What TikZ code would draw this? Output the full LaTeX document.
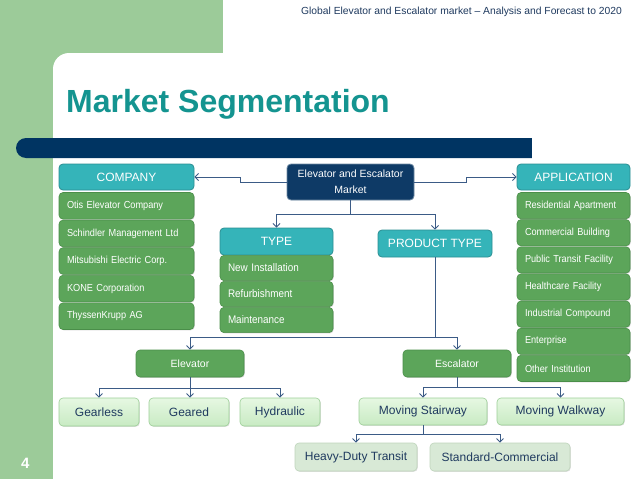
\documentclass[tikz,border=0pt]{standalone}
\usepackage{fontspec}
\setmainfont{Liberation Sans}
\newfontfamily\narrowsans[FakeStretch=0.9]{Liberation Sans}
\usetikzlibrary{arrows.meta,shadows}
\definecolor{bggreen}{HTML}{9CCB99}
\definecolor{titleteal}{HTML}{149490}
\definecolor{barnavy}{HTML}{003462}
\definecolor{headteal}{HTML}{35B4B9}
\definecolor{headborder}{HTML}{2B8E92}
\definecolor{igreen}{HTML}{5CA55A}
\definecolor{igreenborder}{HTML}{4A8E49}
\definecolor{mnavy}{HTML}{0E3A66}
\definecolor{mborder}{HTML}{6F8AA3}
\definecolor{conncol}{HTML}{3B5B86}
\definecolor{lgtop}{HTML}{E6F8E2}
\definecolor{lgbot}{HTML}{C8EAC3}
\definecolor{lgborder}{HTML}{9CCF97}
\definecolor{ggfill}{HTML}{D8E9D6}
\definecolor{ggborder}{HTML}{BFD5BC}
\definecolor{darktext}{HTML}{1F3A5F}
\begin{document}
\begin{tikzpicture}[x=1pt,y=-1pt,
  head/.style={fill=headteal, draw=headborder, line width=0.8pt, rounded corners=4pt, text=white,
    font=\fontsize{12}{14}\selectfont, inner sep=0pt},
  item/.style={fill=igreen, draw=igreenborder, line width=0.6pt, rounded corners=4pt, text=white,
    font=\narrowsans\fontsize{10.2}{12}\selectfont, inner xsep=8pt, inner ysep=0pt, align=left,
    drop shadow={shadow xshift=0.8pt, shadow yshift=-0.8pt, opacity=0.3}},
  mid/.style={fill=igreen, draw=igreenborder, line width=0.6pt, rounded corners=4pt, text=white,
    font=\fontsize{10.5}{12}\selectfont, inner sep=0pt,
    drop shadow={shadow xshift=0.8pt, shadow yshift=-0.8pt, opacity=0.3}},
  leaf/.style={top color=lgtop, bottom color=lgbot, draw=lgborder, line width=0.6pt, rounded corners=4pt,
    text=darktext, font=\fontsize{12}{14}\selectfont, inner sep=0pt,
    drop shadow={shadow xshift=0.8pt, shadow yshift=-0.8pt, opacity=0.25}},
  leafgray/.style={fill=ggfill, draw=ggborder, line width=0.6pt, rounded corners=4pt,
    text=darktext, font=\fontsize{12}{14}\selectfont, inner sep=0pt,
    drop shadow={shadow xshift=0.8pt, shadow yshift=-0.8pt, opacity=0.25}},
  conn/.style={draw=conncol, line width=0.9pt, -{Straight Barb[length=3.5pt,width=7pt]}},
  connl/.style={draw=conncol, line width=0.9pt}
]
\clip (0,0) rectangle (638,479);
% background
\fill[white] (0,0) rectangle (638,479);
\fill[bggreen] (0,0) rectangle (223,75);
\fill[bggreen] (0,0) rectangle (53,479);
\fill[white, rounded corners=16pt] (53,53) rectangle (700,540);
% header text
\node[anchor=base east, text=darktext, font=\fontsize{10.3}{12}\selectfont, inner sep=0pt] (hdr) at (622,14)
  {Global Elevator and Escalator market -- Analysis and Forecast to 2020};
% title
\node[anchor=base west, text=titleteal, font=\bfseries\fontsize{32}{36}\selectfont, inner sep=0pt] (title) at (66,112)
  {Market Segmentation};
% navy bar
\fill[barnavy, rounded corners=10pt] (16,138) rectangle (560,158);
\fill[white] (532,130) rectangle (600,165);
% page number
\node[anchor=base west, text=white, font=\bfseries\fontsize{15}{18}\selectfont, inner sep=0pt] (pnum) at (21,468) {4};

% market box
\node[fill=mnavy, draw=mborder, line width=0.8pt, rounded corners=4pt, text=white, align=center,
  font=\fontsize{10.5}{16}\selectfont, inner sep=0pt, minimum width=127pt, minimum height=36pt]
  (market) at (350.5,182) {Elevator and Escalator\\Market};

% company column
\node[head, minimum width=135pt, minimum height=26pt] (company) at (126.5,177) {COMPANY};
\node[item, text width=119pt, minimum height=26.6pt] (c1) at (126.5,205.8) {Otis Elevator Company};
\node[item, text width=119pt, minimum height=26.6pt] (c2) at (126.5,233.4) {Schindler Management Ltd};
\node[item, text width=119pt, minimum height=26.6pt] (c3) at (126.5,261.0) {Mitsubishi Electric Corp.};
\node[item, text width=119pt, minimum height=26.6pt] (c4) at (126.5,288.6) {KONE Corporation};
\node[item, text width=119pt, minimum height=26.6pt] (c5) at (126.5,316.2) {ThyssenKrupp AG};

% application column
\node[head, minimum width=113pt, minimum height=26pt] (app) at (573.5,177) {APPLICATION};
\node[item, text width=97pt, minimum height=26.2pt] (a1) at (573.5,205.6) {Residential Apartment};
\node[item, text width=97pt, minimum height=26.2pt] (a2) at (573.5,232.7) {Commercial Building};
\node[item, text width=97pt, minimum height=26.2pt] (a3) at (573.5,259.9) {Public Transit Facility};
\node[item, text width=97pt, minimum height=26.2pt] (a4) at (573.5,287.0) {Healthcare Facility};
\node[item, text width=97pt, minimum height=26.2pt] (a5) at (573.5,314.1) {Industrial Compound};
\node[item, text width=97pt, minimum height=26.2pt] (a6) at (573.5,341.3) {Enterprise};
\node[item, text width=97pt, minimum height=26.2pt] (a7) at (573.5,368.4) {Other Institution};

% type column
\node[head, minimum width=113pt, minimum height=27pt] (type) at (276.5,241.5) {TYPE};
\node[item, text width=97pt, minimum height=25.2pt, font=\narrowsans\fontsize{11}{13}\selectfont] (t1) at (276.5,268) {New Installation};
\node[item, text width=97pt, minimum height=25.2pt, font=\narrowsans\fontsize{11}{13}\selectfont] (t2) at (276.5,294) {Refurbishment};
\node[item, text width=97pt, minimum height=25.2pt, font=\narrowsans\fontsize{11}{13}\selectfont] (t3) at (276.5,320) {Maintenance};

% product type
\node[head, minimum width=114pt, minimum height=27pt] (ptype) at (435,243.5) {PRODUCT TYPE};

% elevator / escalator
\node[mid, minimum width=108pt, minimum height=27pt] (elev) at (190,363.5) {Elevator};
\node[mid, minimum width=108pt, minimum height=27pt] (esc) at (457,363.5) {Escalator};

% leaves
\node[leaf, minimum width=80pt, minimum height=28pt] (gearless) at (99,412) {Gearless};
\node[leaf, minimum width=80pt, minimum height=28pt] (geared) at (189,412) {Geared};
\node[leaf, minimum width=80pt, minimum height=28pt] (hydraulic) at (280,412) {Hydraulic};
\node[leaf, minimum width=128pt, minimum height=27pt] (stair) at (423,411.5) {Moving Stairway};
\node[leaf, minimum width=127pt, minimum height=27pt] (walk) at (560.5,411.5) {Moving Walkway};
\node[leafgray, minimum width=122pt, minimum height=28pt] (heavy) at (356,457) {Heavy-Duty Transit};
\node[leafgray, minimum width=140pt, minimum height=28pt] (standard) at (500,457) {Standard-Commercial};

% connectors
\draw[conn] (market.west) -- ++(-46,0) |- (company.east);
\draw[conn] (market.east) -- ++(52,0) |- (app.west);
\draw[connl] (market.south) -- ++(0,14) coordinate (mj);
\draw[conn] (mj) -| (type.north);
\draw[conn] (mj) -| (ptype.north);
\draw[connl] (ptype.south) |- (435,337) coordinate (pj);
\draw[conn] (pj) -| (elev.north);
\draw[conn] (pj) -| (esc.north);
\draw[connl] (elev.south) -- ++(0,11) coordinate (ej);
\draw[conn] (ej) -| (gearless.north);
\draw[conn] (ej) -- (geared.north -| ej);
\draw[conn] (ej) -| (hydraulic.north);
\draw[connl] (esc.south) -- ++(0,10) coordinate (sj);
\draw[conn] (sj) -| (stair.north);
\draw[conn] (sj) -| (walk.north);
\draw[connl] (stair.south) -- ++(0,9) coordinate (tj);
\draw[conn] (tj) -| (heavy.north);
\draw[conn] (tj) -| (standard.north);
\end{tikzpicture}
\end{document}
